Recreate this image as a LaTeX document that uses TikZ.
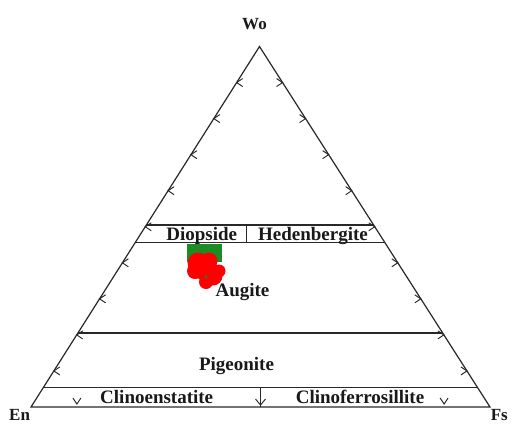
\documentclass[tikz,border=0pt]{standalone}
\usepackage{fontspec}
\setmainfont{Liberation Serif}
\usetikzlibrary{calc}
\definecolor{ln}{RGB}{40,40,40}
\definecolor{grn}{RGB}{28,140,36}
\definecolor{dgrn}{RGB}{70,110,20}
\begin{document}
\begin{tikzpicture}[x=1pt,y=-1pt,
  edge/.style={draw=ln, line width=1.2pt, line join=miter},
  hline/.style={draw=ln, line width=1.1pt},
  tickmark/.style={draw=ln, line width=0.95pt},
  lab/.style={font=\bfseries\fontsize{19}{20}\selectfont, text=black!90, inner sep=0pt},
  corner/.style={font=\bfseries\fontsize{17}{18}\selectfont, text=black!90, inner sep=0pt}]
\useasboundingbox (0,0) rectangle (512,424);
\fill[white] (0,0) rectangle (512,424);
% triangle corners
\coordinate (En) at (31,407);
\coordinate (Wo) at (259.5,46.5);
\coordinate (Fs) at (490,407);
% horizontal boundaries
\coordinate (a1) at ($(Wo)!0.4951!(En)$);
\coordinate (a2) at ($(Wo)!0.4951!(Fs)$);
\coordinate (b1) at ($(Wo)!0.5437!(En)$);
\coordinate (b2) at ($(Wo)!0.5437!(Fs)$);
\coordinate (c1) at ($(Wo)!0.7947!(En)$);
\coordinate (c2) at ($(Wo)!0.7947!(Fs)$);
\coordinate (d1) at ($(Wo)!0.9459!(En)$);
\coordinate (d2) at ($(Wo)!0.9459!(Fs)$);
\coordinate (dv1) at (246.5,225);
\coordinate (dv2) at (246.5,242.5);
\coordinate (mv1) at (260.5,387.5);
\coordinate (mv2) at (260.5,407);
% data: green square and red points
\fill[grn] (186.5,243.5) rectangle (221.5,262);
\begin{scope}[red]
\fill (198,263) circle (10.5);
\fill (209,261) circle (8.5);
\fill (203,271) circle (9);
\fill (213,276) circle (9.5);
\fill (206,282) circle (7);
\fill (195,271) circle (8);
\fill (219,271) circle (6.5);
\end{scope}
\fill[dgrn] (206,277) circle (1.8);
% lines
\draw[edge] (En) -- (Wo) -- (Fs) -- cycle;
\draw[hline] (a1) -- (a2);
\draw[hline] (b1) -- (b2);
\draw[hline] (c1) -- (c2);
\draw[hline] (d1) -- (d2);
\draw[hline] (dv1) -- (dv2);
\draw[hline] (mv1) -- (mv2);
\draw[tickmark] (255.5,399) -- (260.5,405) -- (265.5,399);
% ticks on the sides
\foreach \t in {0.1,0.2,...,0.91}{
  \draw[tickmark] ($(Wo)!\t!(En)$) ++(6,-4) -- ++(-6,4) -- ++(6,4);
  \draw[tickmark] ($(Wo)!\t!(Fs)$) ++(-6,-4) -- ++(6,4) -- ++(-6,4);
}
\foreach \t in {0.1,0.9}{
  \draw[tickmark] ($(En)!\t!(Fs)$) ++(-4,-9) -- ++(4,6) -- ++(4,-6);
}
% labels
\node[corner, anchor=base west] (lWo) at (242,29.5) {Wo};
\node[corner, anchor=base west] (lEn) at (9,420) {En};
\node[corner, anchor=base east] (lFs) at (508,420) {Fs};
\node[lab, anchor=base] (lDi) at (201.7,240.5) {Diopside};
\node[lab, anchor=base] (lHd) at (313,240.5) {Hedenbergite};
\node[lab, anchor=base] (lAu) at (242.5,296.7) {Augite};
\node[lab, anchor=base] (lPi) at (236.5,370) {Pigeonite};
\node[lab, anchor=base] (lCe) at (156.7,403.3) {Clinoenstatite};
\node[lab, anchor=base] (lCf) at (360,403.3) {Clinoferrosillite};
\end{tikzpicture}
\end{document}
